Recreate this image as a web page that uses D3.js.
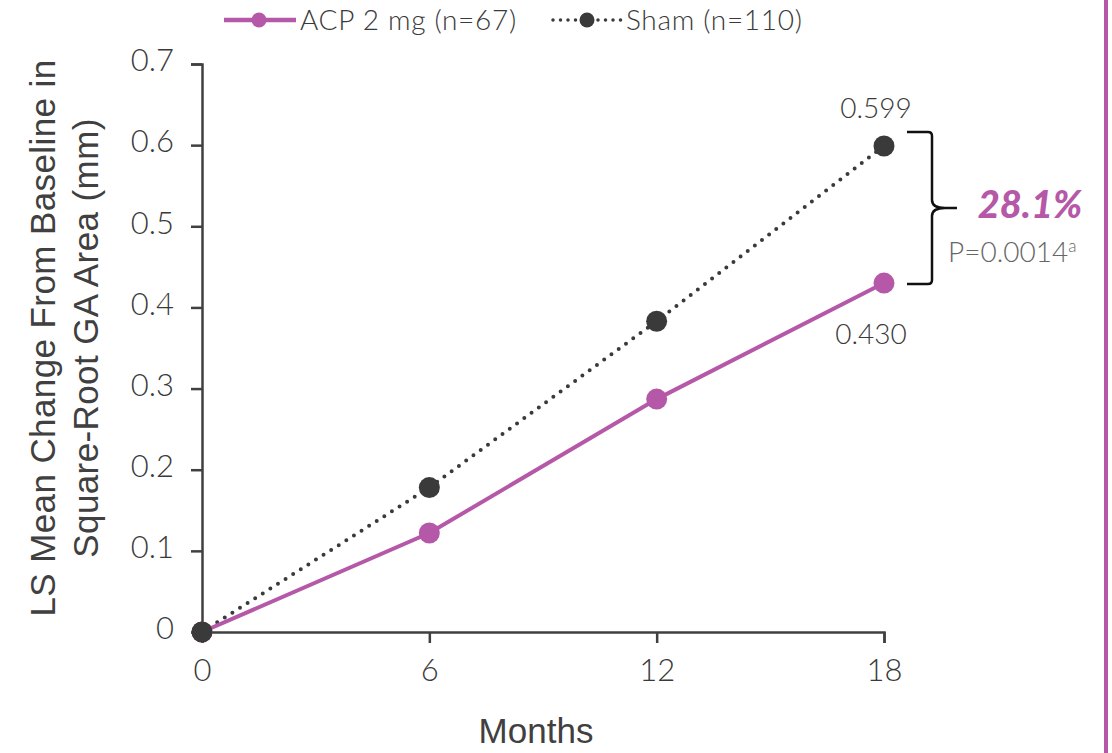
<!DOCTYPE html>
<html><head><meta charset="utf-8">
<script src="https://cdn.jsdelivr.net/npm/d3@7"></script>
<style>body{margin:0;background:#fff}svg{display:block}</style>
</head><body>
<svg id="c" width="1112" height="753"></svg>
<script>
const months = [0, 6, 12, 18];
const acpValues = [0, 0.122, 0.287, 0.430];
const shamValues = [0, 0.178, 0.383, 0.599];
const seriesNames = ["ACP 2 mg (n=67)", "Sham (n=110)"];
const yTicks = [0, 0.1, 0.2, 0.3, 0.4, 0.5, 0.6, 0.7];
const xTicks = [0, 6, 12, 18];
const endLabels = ["0.599", "0.430"];
const diffLabel = "28.1%";
const pLabel = "P=0.0014";

const purple = "#B658A8", dark = "#3a3a3a", axisCol = "#404040";
const tickFont = "Lato, 'Open Sans', sans-serif";
const arial = "'Liberation Sans', Arial, sans-serif";
const svg = d3.select("#c");
const x = d3.scaleLinear().domain([0, 18]).range([202, 884]);
const y = d3.scaleLinear().domain([0, 0.7]).range([632, 64]);

// right purple border
svg.append("rect").attr("x", 1104).attr("y", 0).attr("width", 4).attr("height", 753).attr("fill", purple);

// axes
const yAxis = svg.append("g").attr("transform", "translate(202,0)")
  .call(d3.axisLeft(y).tickValues(yTicks).tickSize(11).tickPadding(17).tickFormat(d => d === 0 ? "0" : d3.format(".1f")(d)));
const xAxis = svg.append("g").attr("transform", "translate(0,632)")
  .call(d3.axisBottom(x).tickValues(xTicks).tickSize(11).tickPadding(16));
[yAxis, xAxis].forEach(a => {
  a.select(".domain").attr("stroke", axisCol).attr("stroke-width", 2.5);
  a.selectAll(".tick line").attr("stroke", axisCol).attr("stroke-width", 2.5);
  a.selectAll(".tick text").attr("fill", "#3a3a3a").style("font-family", tickFont).style("font-size", "31px").style("font-weight", "300");
});
yAxis.selectAll(".tick text").attr("dy", "0.22em");

// axis titles
svg.append("text").attr("x", 536).attr("y", 743).attr("text-anchor", "middle")
  .style("font-family", arial).style("font-size", "35px").attr("fill", axisCol).text("Months");
const yt = svg.append("text").attr("transform", "translate(0,338) rotate(-90)").attr("text-anchor", "middle")
  .style("font-family", arial).style("font-size", "35px").style("letter-spacing", "0.4px").attr("fill", axisCol);
yt.append("tspan").attr("x", 0).attr("y", 55).text("LS Mean Change From Baseline in");
yt.append("tspan").attr("x", 0).attr("y", 98).text("Square-Root GA Area (mm)");

// lines
const line = d3.line().x((d, i) => x(months[i])).y(d => y(d));
svg.append("path").datum(shamValues).attr("d", line).attr("fill", "none")
  .attr("stroke", dark).attr("stroke-width", 4).attr("stroke-linecap", "round").attr("stroke-dasharray", "0 9");
svg.append("path").datum(acpValues).attr("d", line).attr("fill", "none")
  .attr("stroke", purple).attr("stroke-width", 4);
svg.selectAll(".pa").data(acpValues).enter().append("circle")
  .attr("cx", (d, i) => x(months[i])).attr("cy", d => y(d)).attr("r", 10.5).attr("fill", purple);
svg.selectAll(".ps").data(shamValues).enter().append("circle")
  .attr("cx", (d, i) => x(months[i])).attr("cy", d => y(d)).attr("r", 10.5).attr("fill", dark);

// end labels
svg.append("text").attr("x", x(18) - 8).attr("y", y(shamValues[3]) - 28).attr("text-anchor", "middle")
  .style("font-family", tickFont).style("font-size", "28px").style("font-weight", "300").attr("fill", "#3a3a3a").text(endLabels[0]);
svg.append("text").attr("x", x(18) - 13).attr("y", y(acpValues[3]) + 61).attr("text-anchor", "middle")
  .style("font-family", tickFont).style("font-size", "28px").style("font-weight", "300").attr("fill", "#3a3a3a").text(endLabels[1]);

// bracket
const bt = y(shamValues[3]) - 14, bb = y(acpValues[3]) + 1, bm = (bt + bb) / 2;
const bx0 = 907, bx1 = 932, bx2 = 957;
const bp = `M${bx0},${bt} L${bx1 - 4},${bt} Q${bx1},${bt} ${bx1},${bt + 4} L${bx1},${bm - 8} Q${bx1},${bm} ${bx2 - 12},${bm} L${bx2},${bm}
 M${bx2 - 12},${bm} Q${bx1},${bm} ${bx1},${bm + 8} L${bx1},${bb - 4} Q${bx1},${bb} ${bx1 - 4},${bb} L${bx0},${bb}`;
svg.append("path").attr("d", bp).attr("fill", "none").attr("stroke", "#111").attr("stroke-width", 2.5);

svg.append("text").attr("x", 1030).attr("y", 218).attr("text-anchor", "middle")
  .style("font-family", tickFont).style("font-size", "38px").style("font-weight", "900").style("font-style", "italic")
  .attr("fill", purple).text(diffLabel);
const pt = svg.append("text").attr("x", 948).attr("y", 262)
  .style("font-family", tickFont).style("font-size", "28px").style("font-weight", "300").attr("fill", "#666");
pt.append("tspan").text(pLabel);
pt.append("tspan").attr("dy", -10).style("font-size", "17px").text("a");

// legend
const lg = svg.append("g");
lg.append("line").attr("x1", 224).attr("x2", 296).attr("y1", 20).attr("y2", 20).attr("stroke", purple).attr("stroke-width", 4.5);
lg.append("circle").attr("cx", 259).attr("cy", 20).attr("r", 7.5).attr("fill", purple);
lg.append("text").attr("x", 300).attr("y", 30).style("font-family", tickFont).style("font-size", "28px").style("font-weight", "300")
  .style("letter-spacing", "0.7px").attr("fill", "#3a3a3a").text(seriesNames[0]);
lg.append("line").attr("x1", 553).attr("x2", 622).attr("y1", 20).attr("y2", 20).attr("stroke", dark).attr("stroke-width", 3.5)
  .attr("stroke-linecap", "round").attr("stroke-dasharray", "0 7.5");
lg.append("circle").attr("cx", 587).attr("cy", 20).attr("r", 7.5).attr("fill", dark);
lg.append("text").attr("x", 626).attr("y", 30).style("font-family", tickFont).style("font-size", "28px").style("font-weight", "300")
  .style("letter-spacing", "0.7px").attr("fill", "#3a3a3a").text(seriesNames[1]);
</script>
</body></html>
